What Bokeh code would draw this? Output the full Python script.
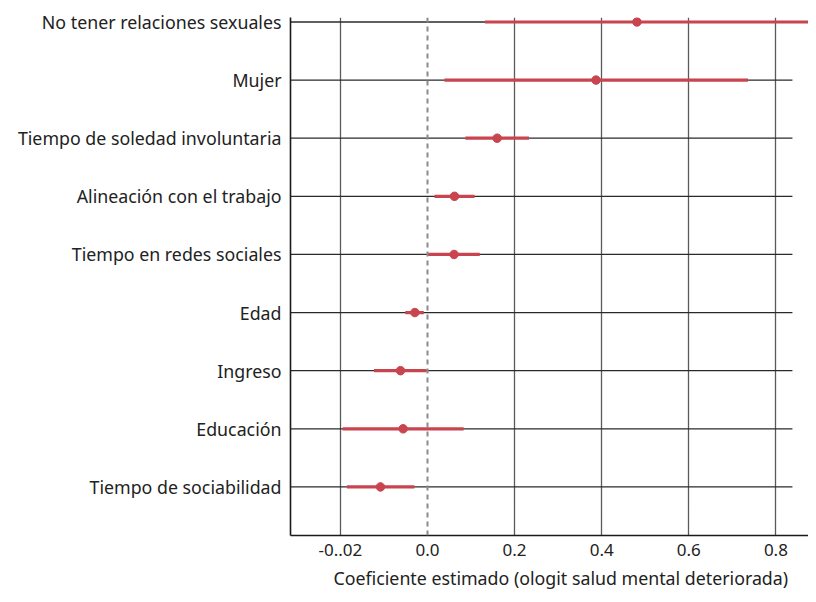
from bokeh.plotting import figure
from bokeh.models import FixedTicker, Span, Title, ColumnDataSource, Range1d
from bokeh.embed import file_html
from bokeh.resources import INLINE

# ---- data (top to bottom) ----
variables = [
    "No tener relaciones sexuales",
    "Mujer",
    "Tiempo de soledad involuntaria",
    "Alineación con el trabajo",
    "Tiempo en redes sociales",
    "Edad",
    "Ingreso",
    "Educación",
    "Tiempo de sociabilidad",
]
coef = [0.481, 0.387, 0.160, 0.062, 0.061, -0.029, -0.062, -0.056, -0.108]
ci_low = [0.132, 0.039, 0.087, 0.016, 0.000, -0.051, -0.123, -0.195, -0.185]
ci_high = [0.93, 0.736, 0.233, 0.108, 0.120, -0.0085, -0.002, 0.083, -0.030]

x_ticks = [-0.2, 0.0, 0.2, 0.4, 0.6, 0.8]
x_tick_labels = ["-0..02", "0.0", "0.2", "0.4", "0.6", "0.8"]
x_title = "Coeficiente estimado (ologit salud mental deteriorada)"

FONT = "Noto Sans"
RED = "#c8454f"

n = len(variables)
ypos = [n - 1 - i for i in range(n)]

X0, X1 = -0.3146, 0.8749
GRID_END = 0.838

p = figure(width=808, height=594, output_backend="svg", toolbar_location=None,
           x_range=Range1d(X0, X1), y_range=Range1d(-0.836, n - 1 + 0.077),
           min_border_left=290, min_border_right=0, min_border_top=17,
           min_border_bottom=59)
p.outline_line_color = None
p.background_fill_color = "white"

# axes
p.xaxis.ticker = FixedTicker(ticks=x_ticks)
p.xaxis.major_label_overrides = {t: l for t, l in zip(x_ticks, x_tick_labels)}
p.yaxis.ticker = FixedTicker(ticks=ypos)
p.yaxis.major_label_overrides = {y: v for y, v in zip(ypos, variables)}
for ax in (p.xaxis[0], p.yaxis[0]):
    ax.major_tick_line_color = None
    ax.minor_tick_line_color = None
    ax.major_tick_out = 0
    ax.major_tick_in = 0
    ax.minor_tick_out = 0
    ax.axis_line_color = "#1a1a1a"
    ax.axis_line_width = 1.6
    ax.major_label_text_font = FONT
    ax.major_label_text_color = "#222222"
p.xaxis.major_label_text_font_size = "17px"
p.yaxis.major_label_text_font_size = "17.8px"
p.xaxis.major_label_standoff = 8
p.yaxis.major_label_standoff = 9

# grids
p.ygrid.grid_line_color = None
p.xgrid.ticker = FixedTicker(ticks=[t for t in x_ticks if t != 0])
p.xgrid.grid_line_color = "#5a5a5a"
p.xgrid.grid_line_width = 1.3

zero = Span(location=0, dimension="height", line_color="#8a8a8a",
            line_dash="5 4", line_width=2)
p.add_layout(zero)

# horizontal row lines
p.segment(x0=[X0] * n, x1=[GRID_END] * n, y0=ypos, y1=ypos,
          line_color="#2a2a2a", line_width=1.3)

src = ColumnDataSource(dict(y=ypos, coef=coef, lo=ci_low, hi=ci_high))
p.segment(x0="lo", x1="hi", y0="y", y1="y", source=src,
          line_color=RED, line_width=3.2)
p.scatter(x="coef", y="y", source=src, size=8.5, fill_color=RED,
          line_color=RED)

t = Title(text=x_title, align="left", offset=43, text_font=FONT,
          text_font_size="17.8px", text_font_style="normal",
          text_color="#222222", standoff=10, vertical_align="bottom")
p.add_layout(t, "below")

open("out.html", "w").write(file_html(p, INLINE))
